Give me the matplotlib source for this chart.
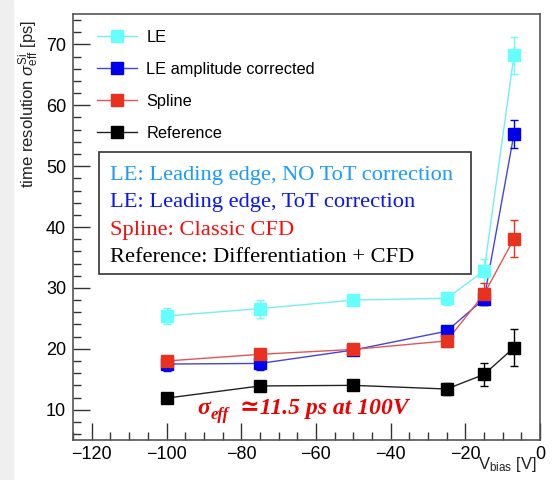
import matplotlib
matplotlib.use("Agg")
import matplotlib.pyplot as plt
import matplotlib.transforms as mtransforms
from matplotlib.patches import Rectangle
from matplotlib.ticker import MultipleLocator

plt.rcParams['font.family'] = ['Liberation Sans', 'DejaVu Sans']
plt.rcParams['mathtext.fontset'] = 'custom'
plt.rcParams['mathtext.rm'] = 'Liberation Sans'
plt.rcParams['mathtext.it'] = 'Liberation Sans:italic'

# bias voltage [V]
vbias = [-100, -75, -50, -25, -15, -7]

# time resolution [ps] and errors
le = [25.4, 26.6, 28.0, 28.3, 32.8, 68.2]
le_err = [1.3, 1.5, 0.8, 1.1, 2.0, 3.0]
le_amp = [17.5, 17.6, 19.8, 22.9, 28.2, 55.3]
le_amp_err = [1.2, 1.0, 0.5, 0.6, 1.0, 2.3]
spline = [18.0, 19.1, 19.9, 21.3, 29.0, 38.1]
spline_err = [0.9, 0.6, 0.5, 1.0, 1.8, 3.0]
reference = [11.9, 13.9, 14.0, 13.4, 15.8, 20.2]
reference_err = [0.5, 0.5, 0.5, 1.0, 1.9, 3.0]

series = [
    ("LE", le, le_err, '#66ffff', '#77eeee'),
    ("LE amplitude corrected", le_amp, le_amp_err, '#0000ee', '#4444dd'),
    ("Spline", spline, spline_err, '#e8311f', '#e25555'),
    ("Reference", reference, reference_err, '#000000', '#222222'),
]

box_lines = [
    ("LE: Leading edge, NO ToT correction", '#1e9bff'),
    ("LE: Leading edge, ToT correction", '#0a14ff'),
    ("Spline: Classic CFD", '#ff0a0a'),
    ("Reference: Differentiation + CFD", '#000000'),
]

fig = plt.figure(figsize=(5.54, 4.80), dpi=100)
fig.patches.append(Rectangle((0, 0), 0.0235, 1, transform=fig.transFigure,
                             color='#efefef', zorder=-10))
ax = fig.add_axes([0.132, 0.083, 0.843, 0.888])

for name, vals, errs, mcol, lcol in series:
    ax.plot(vbias, vals, '-', color=lcol, lw=1.0, zorder=2)
    ax.errorbar(vbias, vals, yerr=errs, fmt='none', ecolor=mcol, elinewidth=1.0,
                capsize=3, capthick=1.0, zorder=3)
    ax.plot(vbias, vals, 's', color=mcol, ms=8.5, zorder=4)

# legend (line + marker)
handles = []
for name, vals, errs, mcol, lcol in series:
    h, = ax.plot([], [], '-s', color=lcol, mfc=mcol, mec=mcol, ms=8.5, lw=1.0, label=name)
    handles.append(h)
ax.legend(handles=handles, loc='upper left', bbox_to_anchor=(0.02, 0.998),
          frameon=False, fontsize=11.8, handlelength=2.4, labelspacing=1.05,
          handletextpad=0.6)

ax.set_xlim(-125, 0)
ax.set_ylim(5, 75)
ax.xaxis.set_major_locator(MultipleLocator(20))
ax.xaxis.set_minor_locator(MultipleLocator(5))
ax.yaxis.set_major_locator(MultipleLocator(10))
ax.yaxis.set_minor_locator(MultipleLocator(2))
ax.tick_params(which='both', direction='in', top=False, right=False,
               labelsize=13, color='#333333')
ax.tick_params(which='major', length=12, width=1.0)
ax.tick_params(which='minor', length=6, width=1.0)
ax.tick_params(axis='x', pad=4)
ax.tick_params(axis='y', pad=5)
for sp in ax.spines.values():
    sp.set_color('#555555')
    sp.set_linewidth(1.2)

ax.set_ylabel(r'time resolution $\sigma^{\mathrm{Si}}_{\mathrm{eff}}$ [ps]',
              fontsize=12, color='#222222')
ax.yaxis.set_label_coords(-0.068, 0.79)
fig.text(0.968, 0.012, r'V$_{\mathrm{bias}}$ [V]', ha='right', va='bottom',
         fontsize=12, color='#222222')

# explanation box
y0 = 0.62
for i, (txt, col) in enumerate(box_lines):
    ax.text(0.078, y0 - i * 0.0635, txt, transform=ax.transAxes, color=col,
            family=['Liberation Serif', 'DejaVu Serif'], fontsize=16.2,
            va='center', ha='left', zorder=6)
ax.add_patch(Rectangle((0.056, 0.39), 0.795, 0.285, transform=ax.transAxes,
                       fill=True, facecolor='white', edgecolor='#333333',
                       lw=1.2, zorder=5))

# sigma annotation
serif = ['Liberation Serif', 'DejaVu Serif']
ax.text(0.265, 0.075, "σ", transform=ax.transAxes, color='#ee0000',
        family=serif, fontsize=17, style='italic', weight='bold',
        va='center', ha='left', zorder=6)
off1 = mtransforms.offset_copy(ax.transAxes, fig=fig, x=10, y=-5, units='points')
ax.text(0.265, 0.075, "eff", transform=off1, color='#ee0000', family=serif,
        fontsize=12, style='italic', weight='bold', va='center', ha='left', zorder=6)
off2 = mtransforms.offset_copy(ax.transAxes, fig=fig, x=31, y=0, units='points')
ax.text(0.265, 0.075, "≃11.5 ps at 100V", transform=off2, color='#ee0000',
        family=serif, fontsize=17, style='italic', weight='bold',
        va='center', ha='left', zorder=6)

fig.savefig('out.png', dpi=100)
